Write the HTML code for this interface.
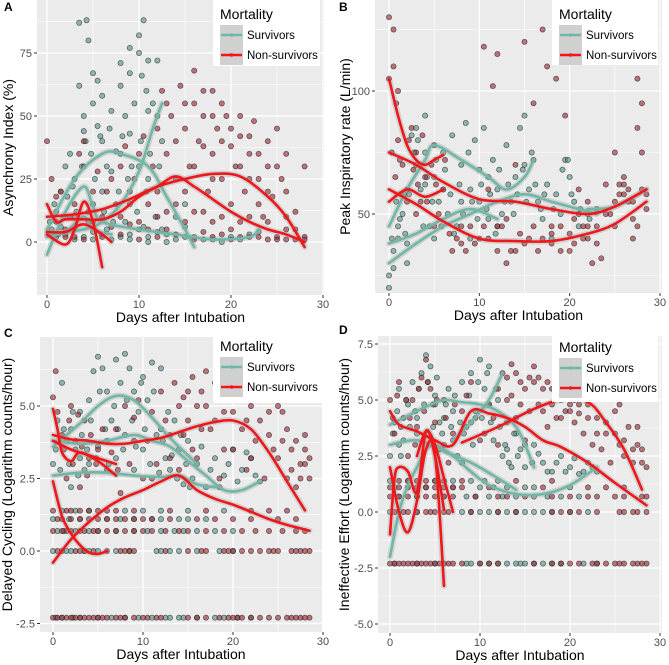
<!DOCTYPE html>
<html><head><meta charset="utf-8">
<style>
html,body{margin:0;padding:0;background:#fff;}
svg{display:block;font-family:"Liberation Sans",Arial,sans-serif;}
</style></head>
<body>
<svg id="chart" width="669" height="665" viewBox="0 0 669 665" xmlns="http://www.w3.org/2000/svg"></svg>
<script>
// ---------- DATA ----------
const aSurv=[[0.5,5],[1,12],[1.5,20],[2,30],[2.5,35],[3,25],[3.5,62],[3.5,87],[4,44],[4,50],[4.3,88],[4.5,80],[5,67],[5,55],[5.5,64],[5.5,46],[6,40],[6,58],[6.5,30],[7,52],[7.5,36],[8,62],[8,71],[8.5,50],[9,77],[9,67],[9,43],[9.5,55],[10,75],[10,82],[10.3,66],[10.5,88],[10.8,60],[11,72],[11,52],[11.5,55],[12,72],[12,50],[12.5,40],[2,3],[3,5],[4,2],[5,4],[6,3],[7,1],[8,2],[9,3],[10,5],[11,2],[12,4],[13,3],[14,1],[15,6],[16,2],[18,1],[20,2],[22,3],[23,4],[8,35],[7,28],[6,20],[9,15],[10,30],[11,25],[5,15],[3,10],[1,2],[14,10],[15,15],
[0.3,8],[0.8,15],[1.2,3],[1.8,10],[2.2,18],[2.8,22],[3.2,12],[3.8,30],[4.2,40],[4.8,35],[5.2,25],[5.8,42],[6.2,12],[6.8,45],[7.2,8],[7.8,20],[8.2,42],[8.8,25],[9.2,30],[9.8,12],[10.2,40],[10.8,20],[11.2,35],[11.8,10],[12.2,30],[3,1],[5,1],[9,1],[11,0],[13,0],[15,2],[17,1],[19,0],[21,1],[1.5,6],[4.5,8],[6.5,5],[8.5,8],[10.5,6],[12.5,5]];
const aNon=[[0,40],[0.5,25],[1,18],[1,8],[2,5],[3,15],[4,40],[4,30],[5,20],[6,10],[7,25],[8,30],[9,20],[10,35],[11,15],[12,45],[12.5,60],[13,35],[13.5,50],[14,25],[14.5,62],[15,45],[15.5,30],[16,55],[16,68],[16.5,40],[17,50],[17.5,20],[18,35],[18,60],[18.5,45],[19,25],[19.5,50],[20,15],[20.5,30],[21,42],[21.5,20],[22,35],[22.5,48],[23,25],[23.5,10],[24,30],[24.5,18],[25,45],[25.5,25],[26,10],[27,5],[28,30],[28,2],[27,1],[26,1],[25,2],[24,1],[22,2],[20,1],[18,2],[16,1],[14,3],[12,2],[10,1],[8,3],[6,2],[4,1],[2,2],[19,10],[21,8],[17,12],[15,8],[23,15],[13,12],
[1.5,20],[2.5,10],[3.5,35],[4.5,12],[5.5,28],[6.5,20],[7.5,15],[8.5,38],[9.5,25],[10.5,42],[11.5,30],[12,20],[13,55],[14,40],[15,20],[15,55],[16,30],[17,38],[17,60],[18,50],[18,25],[19,40],[19,55],[20,38],[20,45],[21,30],[21,50],[22,25],[22,42],[23,35],[24,40],[24,20],[25,30],[26,35],[26,20],[27,12],[8,10],[10,8],[12,10],[14,15],[16,12],[18,8],[20,5],[22,10],[24,8],[26,5],[28,1],[11,5],[13,5],[17,4],[19,3],[21,2],[23,2],[25,1],[5,8],[3,2],[1,3],[7,6],[9,7]];
const aSurvLines=[
 [[0,-5],[2,12],[4,22],[5,14],[6,8],[10,5],[14,3],[18,1],[22,2],[23,5]],
 [[0,5],[3,25],[6,35],[8,35],[11,30],[13,18],[15,5],[16,-2]],
 [[0,3],[4,5],[6,8],[8,15],[10,28],[11.5,45],[12.5,55]],
 [[0,2],[2,4],[4,10],[5,5],[7,3]]];
const aNonLines=[
 [[0,15],[1,8],[2,9],[4,9],[6,9],[8,12],[10,18],[12,22],[14,26],[16,22],[18,17],[20,12],[22,8],[24,5],[26,3],[28,0]],
 [[0,10],[3,11],[6,13],[9,17],[12,22],[15,25],[18,27],[21,26],[24,18],[26,10],[28,-2]],
 [[0,3],[2,-1],[3,5],[4,16],[5,8],[6,-10]],
 [[0,4],[2,4],[4,7],[6,3],[7,0]]];

const bSurv=[[0,20],[0,25],[0.5,28],[0.5,35],[1,40],[1,45],[1.5,50],[2,38],[2,30],[2.5,82],[3,85],[3,70],[3.5,60],[4,90],[4,75],[4.5,45],[5,40],[5,65],[5.5,55],[6,75],[6.5,50],[7,82],[7.5,45],[8,70],[8.5,87],[9,60],[9,40],[9.5,80],[10,55],[10.5,85],[11,65],[11,48],[11.5,72],[12,60],[12.5,50],[13,78],[13.5,55],[14,65],[14.5,85],[15,90],[15,70],[15.5,60],[16,72],[16.5,55],[17,48],[17.5,62],[18,40],[18.5,58],[19,50],[19.5,72],[20,65],[20.5,55],[21,45],[22,50],[23,52],[8,55],[6,60],[4,62],[12,45],[10,68],
[0.3,40],[0.8,55],[1.2,48],[1.8,42],[2.2,58],[2.8,75],[3.2,80],[3.8,45],[4.2,65],[4.8,55],[5.2,72],[5.8,45],[6.2,68],[6.8,58],[7.2,42],[7.8,62],[8.2,50],[8.8,75],[9.2,55],[9.8,48],[10.2,62],[10.8,52],[11.2,58],[11.8,42],[12.2,68],[12.8,55],[13.2,62],[13.8,50],[14.2,58],[14.8,68],[15.2,55],[15.8,75],[16.2,62],[16.8,52],[17.2,58],[18.2,52],[19.2,68],[19.8,72],[20.2,58],[21.2,52],[22.2,48]];
const bNon=[[0,105],[0,130],[0.5,125],[0.5,110],[0.8,95],[1,100],[1,80],[1.5,70],[2,60],[2.5,85],[3,75],[3.5,55],[4,65],[5,78],[5.5,50],[6,60],[7,35],[8,38],[9,45],[10,40],[10.5,118],[11,60],[11.5,102],[12,115],[12.5,45],[13,30],[13.5,35],[14,70],[15,120],[15.5,40],[16,95],[17,125],[17.5,110],[18,38],[18.5,105],[19,45],[19.5,90],[20,35],[20.5,48],[21,60],[21.5,40],[22,55],[22.5,30],[23,45],[23.5,32],[24,62],[24.5,50],[25,75],[25.5,58],[26,62],[26.5,55],[27,48],[27.5,105],[27.5,85],[28,75],[28,95],[28.5,52],[27,40],[26,65],[25,45],
[0.3,75],[0.7,65],[1.2,72],[1.7,58],[2.2,80],[2.7,68],[3.2,62],[3.7,82],[4.2,55],[4.7,70],[5.2,62],[6.2,72],[6.7,42],[7.5,40],[8.5,35],[9.5,38],[10.5,45],[11,40],[12,35],[13,48],[14,35],[14.5,42],[15,38],[16,45],[16.5,35],[17,40],[18,45],[19,35],[20,42],[20.5,38],[21,50],[21.5,45],[22,40],[23,38],[24,50],[25,55],[25.5,62],[26,58],[26.5,60],[27,55],[27.5,45],[28,60],[28.5,58],[3,50],[5,45],[2,55],[8,45],[12,45],[18,42],[22,45]];
const bSurvLines=[
 [[0,30],[3,38],[6,45],[9,50],[12,55],[15,58],[18,55],[21,52],[23,50]],
 [[0,45],[2,60],[4,72],[5,78],[8,72],[11,65],[13,60],[15,65],[16,72]],
 [[0,38],[3,42],[6,48],[9,52],[12,48]],
 [[22,52],[25,53],[28.5,60]]];
const bNonLines=[
 [[0,105],[1,90],[2,78],[3,72],[4,70],[5,72],[6,74]],
 [[0,75],[3,70],[6,63],[10,56],[14,55],[18,52],[22,50],[25,53],[28.5,60]],
 [[0,60],[3,54],[6,47],[10,40],[14,39],[18,39],[22,42],[25,46],[28.5,55]],
 [[0,55],[2,60],[4,57],[6,60]]];

const levelY=[-2.3,0,0.69,1.1,1.39];
const cSurv=[[0,3],[0.5,4.5],[1,5.8],[1.5,3.8],[2,4.2],[2.5,3.5],[3,4.8],[3.5,2.8],[4,5.2],[4.5,6.2],[5,6.7],[5.5,6.3],[6,5.5],[6.5,4.5],[7,6.6],[7.5,5.8],[8,6.8],[8.5,6.3],[9,5.5],[9.5,4.8],[10,6.0],[10.5,5.2],[11,6.5],[11.5,4.0],[12,6.3],[12.5,3.2],[13,2.8],[13.5,4.5],[14,3.5],[14.5,2.3],[15,3.8],[15.5,2.5],[16,3.0],[17,2.2],[18,3.2],[19,2.6],[20,3.5],[21,2.8],[22,3.2],[23,2.4],[2,2.2],[4,3.0],[6,3.8],[8,4.0],[10,3.5],[12,4.2],[7,3.2],[9,2.8],[3,3.2],[5,3.6],
[0.3,3.5],[0.8,2.8],[1.2,4.2],[1.8,3.0],[2.2,4.8],[2.8,2.6],[3.2,4.0],[3.8,3.5],[4.2,4.5],[4.8,3.2],[5.2,5.5],[5.8,4.2],[6.2,3.0],[6.8,5.0],[7.2,4.2],[7.8,3.5],[8.2,5.2],[8.8,4.5],[9.2,3.6],[9.8,5.8],[10.2,4.2],[10.8,3.0],[11.2,5.5],[11.8,2.7],[12.2,3.8],[12.8,4.8],[13.2,3.3],[13.8,2.5],[14.2,4.0],[14.8,3.0],[15.2,2.2],[16.5,3.6],[17.5,2.8],[18.5,2.2],[19.5,3.0],[20.5,2.4],[21.5,3.4],[22.5,2.6]];
const cNon=[[0,5.3],[0.3,6.2],[1,4.0],[1.5,2.5],[2,5.0],[2.5,3.8],[3,2.2],[3.5,4.5],[4,3.2],[5,3.5],[6,2.8],[7,4.2],[7.5,2.0],[8,5.0],[9,3.8],[9.5,5.2],[10,2.5],[11,4.8],[11.5,3.0],[12,5.5],[13,4.0],[13.5,5.8],[14,2.8],[14.5,5.3],[15,4.5],[15.5,6.0],[16,3.2],[16.5,5.5],[17,6.2],[17.5,4.2],[18,5.8],[18.5,2.5],[19,4.8],[19.5,5.2],[20,3.5],[20.5,5.5],[21,4.2],[21.5,2.8],[22,5.0],[22.5,3.8],[23,4.5],[23.5,2.5],[24,4.0],[24.5,5.2],[25,3.2],[25.5,4.8],[26,2.5],[26.5,3.5],[27,2.2],[27.5,3.0],[28,3.5],[28.5,2.5],[28,4.0],
[0.5,4.8],[1.2,3.5],[1.8,4.5],[2.2,3.0],[2.8,4.7],[3.2,3.6],[3.8,2.6],[4.2,4.0],[4.8,3.0],[5.5,4.2],[6.5,3.4],[7.2,2.8],[8.5,3.0],[9,4.6],[10.5,3.8],[11,2.5],[12.5,4.5],[13,3.2],[14,5.0],[14.5,4.0],[15,5.5],[15.5,3.5],[16,5.0],[16.5,4.2],[17,5.0],[18,4.5],[18.5,5.2],[19,3.5],[20,4.8],[21,5.2],[21.5,4.5],[22,3.2],[23,5.2],[24,4.8],[24.5,3.5],[25,5.0],[25.5,3.8],[26,4.2],[26.5,2.8],[27,3.8],[27.5,2.5],[28,3.0],[28.5,3.2]];
const cSurvLevelX=[[1,3,5,8,11,13,14,14.5,18,19,22,0.3,2.2,6.5,9.5,12.5,16,20.5],[0,2,4,5,7,11.5,13,14,16,18.5,1.5,3.5,8.5,12,20],[0.5,2.5,5,7,9,12,13.5,16,18,20,1.2,4,10.5,14.5],[0,3,6,9,12,14,15,17,1.8,7.5,11],[1,4,8,12,15,19,2.5,10]];
const cNonLevelX=[[0,0.5,1.5,2,2.5,3.5,4,4.5,6,7,9,10.5,11.5,12,15,17,18.5,20,20.5,21,23,25,26,27,27.5,28,1,3,5,5.5,7.5,8,10,16,19.5,22,24,26.5,28.5],[0.5,1,3,3.5,6,7.5,8,9,12.5,15,16.5,19,20,21,22,23,24,25,26.5,27.5,28,28.5,2.5,4.5,8.5,17,19.5,24.5,27],[0,1.5,3,4.5,6,8,10,11,14,15,17,19,21,22.5,24,25.5,27,28,1,2,3.5,5,7,9,12.5],[1,2,4,5,7,8,10,11,13,16,18,20,22,25,27,0.5,3,6,9],[0,2,3,5,6,9,13,17,22,24,26,1.5,4,7]];
const cSurvLines=[
 [[0,3.6],[3,4.4],[5,5.0],[7,5.35],[9,5.2],[11,4.6],[13,3.9],[15,3.3],[16,3.0]],
 [[0,3.8],[3,3.7],[6,3.8],[9,4.0],[11,3.8],[13,3.6],[15,3.1],[17,2.6],[19,2.1],[21,2.1],[23,2.4]],
 [[0,2.6],[3,2.7],[6,2.7],[9,2.6],[12,2.55],[14,2.6],[16,2.3],[18,2.2]]];
const cNonLines=[
 [[0,4.9],[0.5,4.2],[1,3.4],[2,3.1],[3,3.4],[5,3.1],[7,2.6]],
 [[0,4.0],[2,3.85],[4,3.8],[6,3.7],[8,3.7],[10,3.8],[12,3.9],[14,4.1],[16,4.3],[18,4.45],[20,4.5],[22,4.2],[24,3.4],[26,2.4],[28,1.4]],
 [[0,2.4],[1,1.2],[2,0.6],[3,0.2],[4,-0.05],[5,-0.1],[6,0]],
 [[0,-0.4],[2,0.4],[4,1.0],[6,1.5],[8,1.85],[10,2.1],[12,2.4],[14,2.6],[16,2.1],[18,1.8],[20,1.6],[22,1.35],[24,1.1],[26,0.9],[28.5,0.7]],
 [[0,3.8],[2,3.5],[4,3.3],[6,3.1],[7,3.0]]];

const dSurv=[[0,2.5],[0.5,4.0],[1,5.5],[1.5,3.2],[2,4.8],[2.5,5.8],[3,3.5],[3.5,6.2],[4,7.0],[4.5,6.5],[5,5.2],[5.5,4.0],[6,3.0],[6.5,5.5],[7,4.5],[7.5,2.5],[8,5.8],[8.5,3.8],[9,6.2],[9.5,4.5],[10,6.8],[10.5,5.5],[11,6.5],[11.5,3.2],[12,5.0],[12.5,2.5],[13,4.0],[13.5,2.0],[14,3.5],[14.5,2.8],[15,2.0],[16,3.0],[17,2.2],[18,1.8],[19,2.5],[20,2.0],[21,1.7],[22,2.2],[23,1.8],[3,4.2],[5,4.8],[7,3.2],[9,4.0],[11,4.8],[13,2.8],[1,3.0],[6,4.2],[8,2.2],
[0.3,3.5],[0.8,4.5],[1.2,2.5],[1.8,5.0],[2.2,3.8],[2.8,4.5],[3.2,5.5],[3.8,4.8],[4.2,5.8],[4.8,3.8],[5.2,6.0],[5.8,3.5],[6.2,4.8],[6.8,3.8],[7.2,5.2],[7.8,4.0],[8.2,3.5],[8.8,5.2],[9.2,3.0],[9.8,5.8],[10.2,4.2],[10.8,6.2],[11.2,4.0],[11.8,5.5],[12.2,3.8],[12.8,3.0],[13.2,2.2],[13.8,3.5],[14.2,2.5],[15,3.0],[15.8,2.2],[16.5,2.6],[17.5,1.8],[18.5,2.2],[19.5,1.8],[20.5,2.4],[21.5,1.8],[22.5,2.0]];
const dNon=[[0,5.0],[0.5,3.5],[1,5.8],[1.5,4.2],[2,2.5],[2.5,5.0],[3,3.8],[3.5,6.0],[4,6.8],[4.5,5.5],[5,4.0],[5.5,2.8],[6,5.0],[6.5,2.2],[7,3.5],[8,4.5],[9,5.8],[10,3.2],[11,4.8],[12,3.0],[12.5,6.2],[13,5.0],[13.5,6.6],[14,4.2],[14.5,5.8],[15,3.2],[15.5,6.0],[16,6.5],[16.5,4.8],[17,5.5],[17.5,3.8],[18,5.5],[18.5,4.2],[19,5.0],[19.5,4.5],[20,5.2],[20.5,4.0],[21,5.8],[21.5,3.5],[22,4.8],[22.5,3.0],[23,4.2],[23.5,2.8],[24,3.5],[24.5,2.2],[25,4.5],[25.5,3.0],[26,2.5],[26.5,3.8],[27,2.2],[27.5,3.0],[28,2.8],[28.5,2.0],[20,4.8],[21,4.4],
[0.3,4.2],[0.8,5.2],[1.2,3.8],[1.8,5.0],[2.2,4.2],[2.8,3.0],[3.2,5.5],[3.8,4.5],[4.2,5.8],[4.8,4.8],[5.2,5.0],[6.2,4.2],[7.2,4.8],[8.5,5.2],[9.5,4.2],[10.5,3.5],[11.5,4.2],[12,5.5],[13,6.0],[13.5,5.2],[14,6.2],[14.5,4.8],[15,5.5],[15.5,4.5],[16,5.8],[16.5,6.0],[17,4.5],[17.5,5.8],[18,4.8],[18.5,5.5],[19,4.2],[19.5,5.5],[20,4.5],[20.5,5.0],[21,4.8],[21.5,5.2],[22,4.2],[23,3.5],[24,4.0],[25,3.5],[25.5,4.8],[26,3.2],[27,2.8],[27.5,3.8],[28,2.2]];
const dSurvLevelX=[[0.5,3,5,9,11,13,14,15,17,19,21.5,23,8.5,10,12,14.5,16,18],[0,1,3,8,10,11,13,15,17,22,9,12,14,16,18,20],[1,3,6,8.5,11,14,16,19,21,9.5,12.5,17.5],[0.5,4,7,10,13,16,20,11.5,15],[0,2,5,9,12,7,10.5]];
const dNonLevelX=[[0,1,1.5,2,2.5,3.5,4,4.5,6,7,10,12,16,18,20,22.5,24,25,26,27,28,28.5,0.5,3,5,5.5,6.5,8,11,19,21,23,25.5,27.5],[0.5,2,4,5,6,9,12,14,18,19,20,21,26,27,27.5,28.5,1,1.5,3,4.5,6.5,23,25.5],[0,2,4,5,7,9.5,12,15,18,20,23,28,28.5,1,3,6,13,22,25,26],[1,2,3,5,6,8,11,17,22,24,0,4,7,26],[1,3,4,6,8,14,18,2,5]];
const dSurvLines=[
 [[0,-2.0],[1,0],[2,1.2],[3,2.0],[4,2.8],[5,3.0],[7,2.5],[9,1.8],[11,1.2],[14,0.8],[17,0.8],[20,1.2],[23,2.0]],
 [[0,3.9],[2,4.3],[4,4.7],[6,5.0],[8,4.9],[10,4.8],[12,4.5],[14,3.8],[15,3.0],[16,2.0]],
 [[0,3.0],[3,3.2],[6,2.7],[9,2.2],[12,1.5],[14,1.0]],
 [[7,3.2],[9,4.0],[11,5.0],[12.5,6.2]]];
const dNonLines=[
 [[0,4.5],[1,3.9],[3,3.6],[5,3.2],[7,3.0],[9,4.5],[11,4.4],[13,4.2],[15,3.8],[17,3.2],[19,2.9],[22,2.2],[25,1.3],[28.5,0.3]],
 [[8,3.1],[12,3.8],[16,4.6],[19,5.0],[22,4.9],[24,4.0],[26,2.8],[28,1.0]],
 [[0,-1.0],[0.5,1.5],[1,2.0],[2,1.8],[3,0.9],[4,3.6],[5,2.5],[6,0.1]],
 [[0,2.0],[1,0],[2,-0.9],[3,0.5],[4,2.8],[5,2.6],[6,-3.3]],
 [[3,2.5],[4,3.6],[5,3.0],[6,1.5],[7,0]]];

const xTicks=[0,10,20,30];
const xTickLabels=["0","10","20","30"];
const aYTicks=[0,25,50,75], aYTickLabels=["0","25","50","75"];
const bYTicks=[50,100], bYTickLabels=["50","100"];
const cYTicks=[-2.5,0,2.5,5], cYTickLabels=["-2.5","0.0","2.5","5.0"];
const dYTicks=[-5,-2.5,0,2.5,5,7.5], dYTickLabels=["-5.0","-2.5","0.0","2.5","5.0","7.5"];

// ---------- RENDER ----------
const NS="http://www.w3.org/2000/svg";
const svg=document.getElementById('chart');
function mk(tag,attrs,parent){const e=document.createElementNS(NS,tag);for(const k in attrs)e.setAttribute(k,attrs[k]);(parent||svg).appendChild(e);return e;}
function smooth(pts){
  if(pts.length<3)return 'M'+pts.map(p=>p.join(',')).join('L');
  let d='M'+pts[0][0]+','+pts[0][1];
  for(let i=0;i<pts.length-1;i++){
    const p0=pts[i-1]||pts[i],p1=pts[i],p2=pts[i+1],p3=pts[i+2]||p2;
    const c1=[p1[0]+(p2[0]-p0[0])/6,p1[1]+(p2[1]-p0[1])/6];
    const c2=[p2[0]-(p3[0]-p1[0])/6,p2[1]-(p3[1]-p1[1])/6];
    d+='C'+c1.join(',')+' '+c2.join(',')+' '+p2.join(',');
  }
  return d;
}
function panel(cfg){
  const g=mk('g',{});
  
  
  const sx=v=>cfg.x0+(v-0)*(cfg.x30-cfg.x0)/30;
  const sy=v=>cfg.yA+(v-cfg.vA)*(cfg.yB-cfg.yA)/(cfg.vB-cfg.vA);
  const bg=mk('rect',{x:cfg.l,y:cfg.t,width:cfg.r-cfg.l,height:cfg.b-cfg.t,fill:'#ebebeb'},g);
  
  
  const clipId='clip'+cfg.letter;
  const cp=mk('clipPath',{id:clipId},g);mk('rect',{x:cfg.l,y:cfg.t,width:cfg.r-cfg.l,height:cfg.b-cfg.t},cp);
  const grid=mk('g',{'clip-path':'url(#'+clipId+')'},g);
  
  
  const yStep=cfg.yTicks[1]-cfg.yTicks[0];
  for(let v=cfg.yTicks[0]-yStep*4.5;v<cfg.yTicks[cfg.yTicks.length-1]+yStep*4;v+=yStep){
    const y=sy(v);if(y>cfg.t&&y<cfg.b)mk('line',{x1:cfg.l,x2:cfg.r,y1:y,y2:y,stroke:'#fff','stroke-width':0.6},grid);}
  for(let v=cfg.yTicks[0]-yStep*4;v<cfg.yTicks[cfg.yTicks.length-1]+yStep*4;v+=yStep){
    const y=sy(v);if(y>cfg.t&&y<cfg.b)mk('line',{x1:cfg.l,x2:cfg.r,y1:y,y2:y,stroke:'#fff','stroke-width':1.2},grid);}
  [5,15,25].forEach(v=>mk('line',{x1:sx(v),x2:sx(v),y1:cfg.t,y2:cfg.b,stroke:'#fff','stroke-width':0.6},grid));
  xTicks.forEach(v=>mk('line',{x1:sx(v),x2:sx(v),y1:cfg.t,y2:cfg.b,stroke:'#fff','stroke-width':1.2},grid));
  const plot=mk('g',{'clip-path':'url(#'+clipId+')'},g);
  function pts(arr,fill,name){
    const pg=mk('g',{},plot);
    
    
    arr.forEach(p=>{const c=mk('circle',{cx:sx(p[0]),cy:sy(p[1]),r:2.6,fill:fill,'fill-opacity':0.6,stroke:'#1a1a1a','stroke-opacity':0.65,'stroke-width':0.7},pg);
      
      });
  }
  function levels(xs,fill,name){
    const arr=[];xs.forEach((row,i)=>row.forEach(x=>arr.push([x,levelY[i]])));pts(arr,fill,name);
  }
  pts(cfg.surv,'#4f8f82','survivor-points');
  pts(cfg.non,'#98202a','non-survivor-points');
  if(cfg.survLev){levels(cfg.survLev,'#4f8f82','survivor-level-points');levels(cfg.nonLev,'#98202a','non-survivor-level-points');}
  function lines(arr,color,name){
    arr.forEach(l=>{const d=smooth(l.map(p=>[sx(p[0]),sy(p[1])]));
      const rb=mk('path',{d:d,fill:'none',stroke:'#999','stroke-opacity':0.3,'stroke-width':6,'stroke-linecap':'round'},plot);
      
      });
    arr.forEach(l=>{const d=smooth(l.map(p=>[sx(p[0]),sy(p[1])]));
      const pl=mk('path',{d:d,fill:'none',stroke:color,'stroke-width':2.6,'stroke-linecap':'round'},plot);
      
      });
  }
  lines(cfg.survLines,'#6fb7a7','survivor-smooth-line');
  lines(cfg.nonLines,'#f0171b','non-survivor-smooth-line');
  xTicks.forEach((v,i)=>{mk('line',{x1:sx(v),x2:sx(v),y1:cfg.b,y2:cfg.b+3,stroke:'#333'},g);
    const t=mk('text',{x:sx(v),y:cfg.b+13,'text-anchor':'middle','font-size':11,fill:'#4d4d4d'},g);t.textContent=xTickLabels[i];
    });
  cfg.yTicks.forEach((v,i)=>{const y=sy(v);mk('line',{x1:cfg.l-3,x2:cfg.l,y1:y,y2:y,stroke:'#333'},g);
    const t=mk('text',{x:cfg.l-5,y:y+4,'text-anchor':'end','font-size':11,fill:'#4d4d4d'},g);t.textContent=cfg.yTickLabels[i];
    });
  const xt=mk('text',{x:(cfg.l+cfg.r)/2,y:cfg.b+27,'text-anchor':'middle','font-size':14,fill:'#000'},g);xt.textContent='Days after Intubation';
  
  const yc=(cfg.t+cfg.b)/2;
  const yt=mk('text',{x:cfg.ytx,y:yc,'text-anchor':'middle','font-size':14,fill:'#000',transform:'rotate(-90 '+cfg.ytx+' '+yc+')'},g);yt.textContent=cfg.ytitle;
  
  const lt=mk('text',{x:cfg.lx,y:cfg.ly,'font-size':12,'font-weight':'bold',fill:'#000'},g);lt.textContent=cfg.letter;
  
  const lg=mk('g',{},g);
  
  
  const L=cfg.leg;
  mk('rect',{x:L[0],y:L[1],width:L[2],height:L[3],fill:'#fff'},lg);
  const tt=mk('text',{x:L[0]+7,y:L[1]+19,'font-size':14,fill:'#000'},lg);tt.textContent='Mortality';
  
  [['Survivors','#6fb7a7'],['Non-survivors','#f0171b']].forEach((e,i)=>{
    const ey=L[1]+25+i*20;
    const eg=mk('g',{},lg);
    
    
    mk('rect',{x:L[0]+7,y:ey,width:23,height:20,fill:'#d0d0d0'},eg);
    mk('line',{x1:L[0]+8,x2:L[0]+29,y1:ey+10,y2:ey+10,stroke:e[1],'stroke-width':2.6},eg);
    mk('circle',{cx:L[0]+18.5,cy:ey+10,r:1.8,fill:e[1]},eg);
    const et=mk('text',{x:L[0]+34,y:ey+14,'font-size':11.5,fill:'#000'},eg);et.textContent=e[0];
  });
}
panel({name:'panel-a-asynchrony-index',letter:'A',lx:4,ly:11,l:37,t:0,r:324,b:295,x0:47,x30:323,vA:0,yA:242,vB:75,yB:53,
  yTicks:aYTicks,yTickLabels:aYTickLabels,ytitle:'Asynchrony Index (%)',ytx:13,leg:[213,0,107,66],
  surv:aSurv,non:aNon,survLines:aSurvLines,nonLines:aNonLines});
panel({name:'panel-b-peak-inspiratory-rate',letter:'B',lx:339,ly:11,l:375,t:0,r:662,b:293,x0:389,x30:660,vA:50,yA:214,vB:100,yB:91,
  yTicks:bYTicks,yTickLabels:bYTickLabels,ytitle:'Peak Inspiratory rate (L/min)',ytx:350,leg:[552,0,106,65],
  surv:bSurv,non:bNon,survLines:bSurvLines,nonLines:bNonLines});
panel({name:'panel-c-delayed-cycling',letter:'C',lx:4,ly:337,l:40,t:337,r:322,b:632,x0:53,x30:323,vA:0,yA:551,vB:5,yB:406,
  yTicks:cYTicks,yTickLabels:cYTickLabels,ytitle:'Delayed Cycling (Logarithm counts/hour)',ytx:12,leg:[213,332,109,71],
  surv:cSurv,non:cNon,survLev:cSurvLevelX,nonLev:cNonLevelX,survLines:cSurvLines,nonLines:cNonLines});
panel({name:'panel-d-ineffective-effort',letter:'D',lx:339,ly:334,l:378,t:336,r:662,b:633,x0:390,x30:660,vA:0,yA:512,vB:5,yB:400,
  yTicks:dYTicks,yTickLabels:dYTickLabels,ytitle:'Ineffective Effort (Logarithm counts/hour)',ytx:349,leg:[552,333,106,69],
  surv:dSurv,non:dNon,survLev:dSurvLevelX,nonLev:dNonLevelX,survLines:dSurvLines,nonLines:dNonLines});
</script>
</body></html>
